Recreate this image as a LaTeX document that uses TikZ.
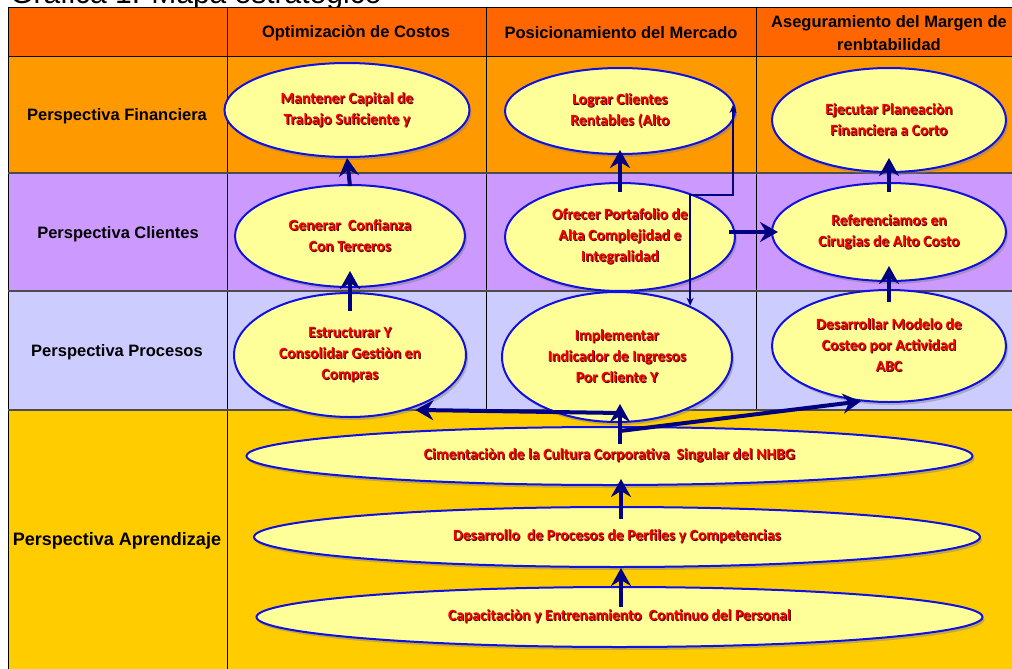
\documentclass[tikz,border=0pt]{standalone}
\usepackage{fontspec}
\setmainfont{Liberation Sans}
\newfontfamily\calib{Carlito}
\usetikzlibrary{shapes.geometric,arrows.meta,shadows,calc}
\definecolor{hdr}{HTML}{FF6600}
\definecolor{fin}{HTML}{FF9900}
\definecolor{cli}{HTML}{CC99FF}
\definecolor{pro}{HTML}{CCCCFF}
\definecolor{apr}{HTML}{FFCC00}
\definecolor{objfill}{HTML}{FFFF99}
\definecolor{objblue}{HTML}{1010E0}
\definecolor{navy}{HTML}{000080}
\definecolor{txtsh}{HTML}{3A0000}
\newcommand\rt[1]{\leavevmode\rlap{\kern0.9pt\raisebox{-0.9pt}{\color{txtsh}#1}}{\color{red}#1}}
\begin{document}
\begin{tikzpicture}[x=1pt,y=-1pt,
  obj/.style={ellipse, draw=objblue, line width=2pt, fill=objfill, inner sep=0pt, align=center,
    font=\calib\bfseries\fontsize{15.6}{21}\selectfont,
    drop shadow={shadow xshift=2pt,shadow yshift=-3pt,opacity=0.45}},
  bigarrow/.style={-{Stealth[length=18pt,width=20pt,inset=6pt]}, line width=4pt, draw=navy},
  thinarrow/.style={{Stealth[length=8pt,width=7pt]}-{Stealth[length=8pt,width=7pt]}, line width=1.6pt, draw=navy},
  hdrtxt/.style={font=\bfseries\fontsize{16.5}{23}\selectfont, align=center, inner sep=0pt},
  gridline/.style={draw=black, line width=1pt},
  rowline/.style={draw=black!70, line width=1.2pt}]
\useasboundingbox (0,0) rectangle (1012,669);
% title (cut at the top)
\node[anchor=base west, font=\fontsize{30}{30}\selectfont, inner sep=0pt] (title) at (10,4) {Gráfica 1. Mapa estratégico};
% table
\fill[hdr] (8,8) rectangle (1012,57);
\fill[fin] (8,57) rectangle (1012,173);
\fill[cli] (8,173) rectangle (1012,291);
\fill[pro] (8,291) rectangle (1012,410);
\fill[apr] (8,410) rectangle (1012,669);
\draw[gridline] (8,669) -- (8,8) -- (1012,8);
\draw[gridline] (227,8) -- (227,669);
\draw[gridline] (486,8) -- (486,410);
\draw[gridline] (756,8) -- (756,410);
\draw[gridline] (8,57) -- (1012,57);
\draw[rowline] (8,173) -- (1012,173);
\draw[rowline] (8,291) -- (1012,291);
\draw[rowline] (8,410) -- (1012,410);
% headers
\node[hdrtxt] (h1) at (356,33) {Optimizaciòn de Costos};
\node[hdrtxt] (h2) at (621,33) {Posicionamiento del Mercado};
\node[hdrtxt] (h3) at (889,33.5) {Aseguramiento del Margen de\\renbtabilidad};
% row labels
\node[hdrtxt] (l1) at (117,116) {Perspectiva Financiera};
\node[hdrtxt] (l2) at (118,234) {Perspectiva Clientes};
\node[hdrtxt] (l3) at (117,352) {Perspectiva Procesos};
\node[hdrtxt, font=\bfseries\fontsize{18}{23}\selectfont] (l4) at (117,541) {Perspectiva Aprendizaje};
% objectives
\node[obj, minimum width=245pt, minimum height=94pt] (mant) at (347,110) {\rt{Mantener Capital de}\\\rt{Trabajo Suficiente y}};
\node[obj, minimum width=230pt, minimum height=86pt] (log) at (620,111) {\rt{Lograr Clientes}\\\rt{Rentables (Alto}};
\node[obj, minimum width=234pt, minimum height=104pt] (ejec) at (889,120) {\rt{Ejecutar Planeaciòn}\\\rt{Financiera a Corto}};
\node[obj, minimum width=230pt, minimum height=102pt] (gen) at (350,236) {\rt{Generar\ \ Confianza}\\\rt{Con Terceros}};
\node[obj, minimum width=230pt, minimum height=108pt] (ofr) at (620,237) {\rt{Ofrecer Portafolio de}\\\rt{Alta Complejidad e}\\\rt{Integralidad}};
\node[obj, minimum width=234pt, minimum height=98pt] (ref) at (889,232) {\rt{Referenciamos en}\\\rt{Cirugias de Alto Costo}};
\node[obj, minimum width=232pt, minimum height=124pt] (est) at (350,355) {\rt{Estructurar Y}\\\rt{Consolidar Gestiòn en}\\\rt{Compras}};
\node[obj, minimum width=230pt, minimum height=130pt] (imp) at (617,357) {\rt{Implementar}\\\rt{Indicador de Ingresos}\\\rt{Por Cliente Y}};
\node[obj, minimum width=234pt, minimum height=112pt] (des) at (889,346) {\rt{Desarrollar Modelo de}\\\rt{Costeo por Actividad}\\\rt{ABC}};
\node[obj, minimum width=726pt, minimum height=58pt] (cim) at (609.5,456) {\rt{Cimentaciòn de la Cultura Corporativa\ \ Singular del NHBG}};
\node[obj, minimum width=726pt, minimum height=60pt] (dev) at (617,537) {\rt{Desarrollo\ \ de Procesos de Perfiles y Competencias}};
\node[obj, minimum width=726pt, minimum height=60pt] (cap) at (619.5,617) {\rt{Capacitaciòn y Entrenamiento\ \ Continuo del Personal}};
% connectors
\draw[bigarrow] ([yshift=-2pt]gen.north) -- (mant.south);
\draw[bigarrow] ([yshift=-10pt]ofr.north) -- ([yshift=5pt]log.south);
\draw[bigarrow] ([yshift=-10pt]ref.north) -- ([yshift=15pt]ejec.south);
\draw[bigarrow] ([yshift=-19pt]est.north) -- ([yshift=17pt]gen.south);
\draw[bigarrow] ([yshift=-13pt]des.north) -- ([yshift=16pt]ref.south);
\draw[bigarrow] ($(ofr.east |- ref.west)+(-7,0)$) -- ([xshift=7pt]ref.west);
\coordinate (turn) at (0,195);
\draw[thinarrow] ([xshift=-3pt,yshift=6pt]log.east) |- (turn -| imp.35) -- (imp.35);
\draw[bigarrow] ([xshift=10.5pt,yshift=-18pt]cim.north) -- ([xshift=3pt,yshift=19pt]imp.south);
\draw[bigarrow] ([xshift=10.5pt,yshift=13pt]cim.north) -- ([xshift=-6pt,yshift=-5pt]est.-35);
\draw[bigarrow] ([xshift=10.5pt,yshift=-5pt]cim.north) -- (des.-117);
\draw[bigarrow] ([xshift=4pt,yshift=-13pt]dev.north) -- ([xshift=11.5pt,yshift=7pt]cim.south);
\draw[bigarrow] ([xshift=1.5pt,yshift=-21pt]cap.north) -- ([xshift=4pt]dev.south);
\end{tikzpicture}
\end{document}
